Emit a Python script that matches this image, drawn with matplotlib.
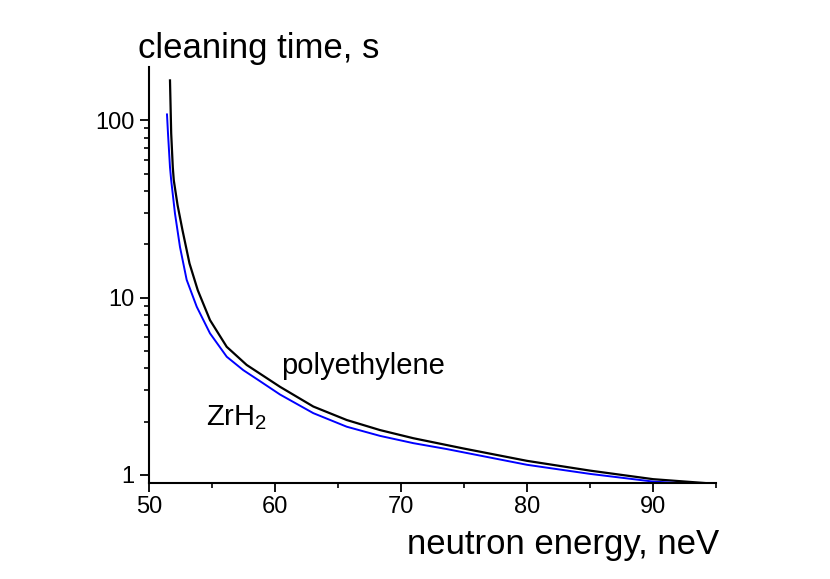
#!/usr/bin/env python3

import matplotlib
matplotlib.use("Agg")
import matplotlib.pyplot as plt
from matplotlib.ticker import FixedLocator, NullFormatter

plt.rcParams['font.family'] = ['Liberation Sans', 'DejaVu Sans']
plt.rcParams['mathtext.fontset'] = 'custom'
plt.rcParams['mathtext.rm'] = 'Liberation Sans'
plt.rcParams['mathtext.it'] = 'Liberation Sans:italic'

# polyethylene (black)
pe_energy = [51.667, 51.762, 51.889, 51.968, 52.27, 52.659, 53.214, 53.873, 54.841,
             56.167, 57.754, 60.397, 63.04, 65.69, 68.33, 70.98, 74.94, 80.0,
             85.0, 90.0, 95.0]
pe_time = [168, 84.5, 54.4, 45.9, 33.2, 24.0, 15.6, 11.0, 7.47,
           5.28, 4.17, 3.14, 2.43, 2.04, 1.79, 1.61, 1.41, 1.20,
           1.057, 0.946, 0.89]

# ZrH2 (blue)
zr_energy = [51.429, 51.508, 51.667, 51.762, 52.063, 52.46, 52.99, 53.79, 54.84,
             56.17, 57.48, 58.67, 60.40, 63.04, 65.69, 68.33, 70.98, 73.6,
             80.0, 85.0, 90.0, 95.0]
zr_time = [108, 84.5, 54.4, 45.9, 29.8, 19.3, 12.6, 8.88, 6.29,
           4.64, 3.9, 3.43, 2.84, 2.23, 1.87, 1.66, 1.51, 1.40,
           1.14, 1.013, 0.917, 0.875]

x_major = [50, 60, 70, 80, 90]
x_minor = [55, 65, 75, 85, 95]
y_major = [1, 10, 100]
y_minor = [m * d for d in (1, 10) for m in range(2, 10)]

fig = plt.figure(figsize=(8.3, 5.79), dpi=100)
ax = fig.add_axes([0.1795, 0.1658, 0.6832, 0.7185])

ax.plot(pe_energy, pe_time, color='black', lw=1.6)
ax.plot(zr_energy, zr_time, color='blue', lw=1.4)

ax.set_yscale('log')
ax.set_xlim(50, 95)
ax.set_ylim(0.9, 200)

ax.xaxis.set_major_locator(FixedLocator(x_major))
ax.xaxis.set_minor_locator(FixedLocator(x_minor))
ax.yaxis.set_major_locator(FixedLocator(y_major))
ax.yaxis.set_minor_locator(FixedLocator(y_minor))
ax.yaxis.set_minor_formatter(NullFormatter())
ax.set_yticklabels([str(v) for v in y_major])

for s in ('top', 'right'):
    ax.spines[s].set_visible(False)
for s in ('left', 'bottom'):
    ax.spines[s].set_linewidth(1.5)

ax.tick_params(which='major', direction='out', length=6.5, width=1.3,
               labelsize=17)
ax.tick_params(axis='y', which='major', pad=4)
ax.tick_params(axis='x', which='major', pad=3)
ax.tick_params(which='minor', direction='out', length=3.6, width=1.2)

# axis titles sit at the ends like in the original
fig.text(0.166, 0.917, 'cleaning time, s', fontsize=25, va='center', ha='left')
fig.text(0.866, 0.059, 'neutron energy, neV', fontsize=25, va='center', ha='right')

ax.text(60.5, 4.1, 'polyethylene', fontsize=21, va='center', ha='left')
ax.text(54.5, 2.1, 'ZrH$_2$', fontsize=21, va='center', ha='left')

fig.savefig('out.png', dpi=100)
